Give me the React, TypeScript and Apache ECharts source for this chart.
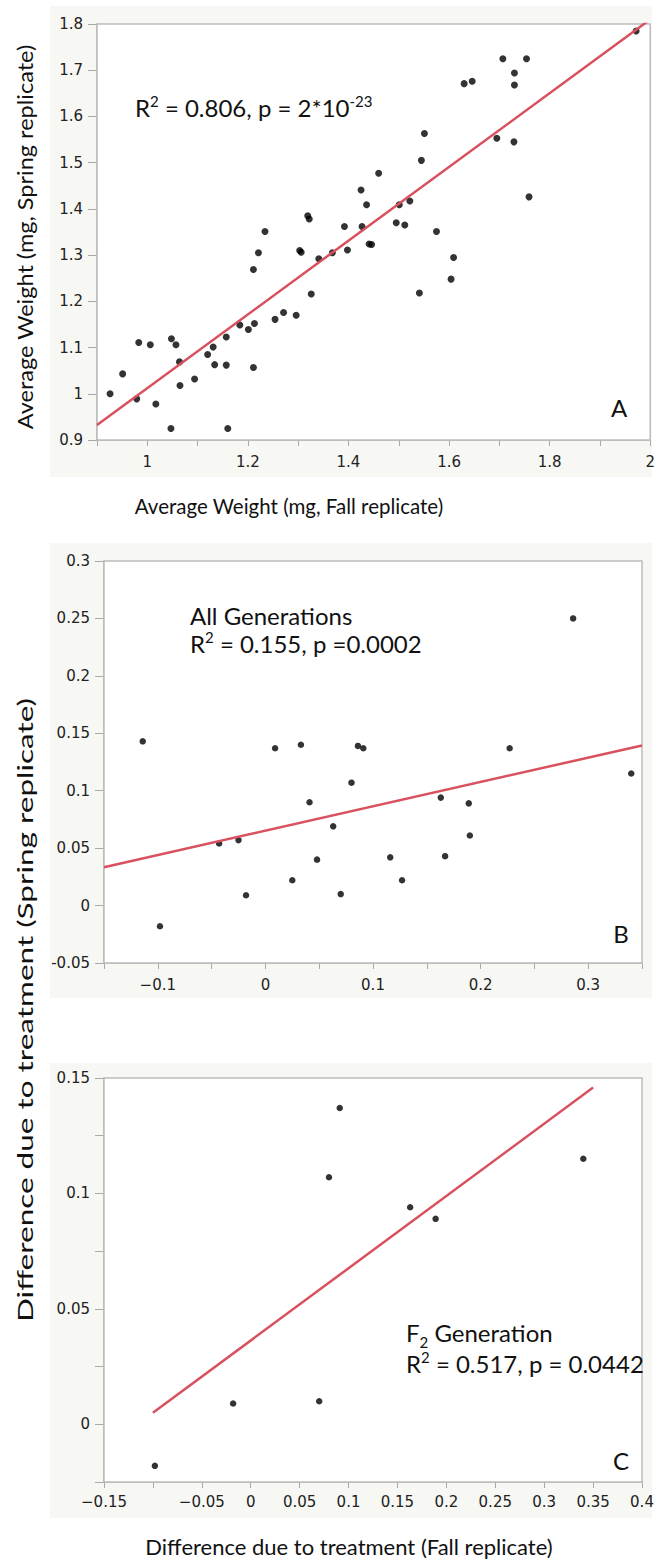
import { useEffect, useRef } from "react";
import * as echarts from "echarts";

// Panel A: average weight per line, fall vs spring replicate (mg)
const fallWeight = [
  0.926, 0.951, 0.983, 0.979, 1.006, 1.017, 1.048, 1.057, 1.047, 1.064,
  1.065, 1.094, 1.12, 1.131, 1.134, 1.157, 1.157, 1.16, 1.184, 1.201,
  1.213, 1.211, 1.211, 1.221, 1.234, 1.254, 1.271, 1.296, 1.303, 1.306,
  1.326, 1.341, 1.368, 1.398, 1.441, 1.446, 1.575, 1.609, 1.604, 1.541,
  1.425, 1.436, 1.319, 1.322, 1.392, 1.427, 1.46, 1.495, 1.501, 1.512,
  1.522, 1.545, 1.551, 1.63, 1.646, 1.707, 1.754, 1.73, 1.73, 1.695,
  1.729, 1.759, 1.972,
];
const springWeight = [
  1.0, 1.043, 1.111, 0.989, 1.106, 0.978, 1.119, 1.106, 0.925, 1.069,
  1.018, 1.032, 1.085, 1.101, 1.063, 1.123, 1.062, 0.925, 1.149, 1.139,
  1.152, 1.057, 1.269, 1.305, 1.351, 1.161, 1.176, 1.17, 1.31, 1.306,
  1.216, 1.292, 1.305, 1.311, 1.324, 1.323, 1.351, 1.295, 1.248, 1.218,
  1.441, 1.409, 1.385, 1.378, 1.362, 1.362, 1.477, 1.37, 1.409, 1.365,
  1.417, 1.505, 1.563, 1.671, 1.676, 1.725, 1.725, 1.694, 1.668, 1.553,
  1.545, 1.426, 1.785,
];
const fitA = { intercept: 0.214, slope: 0.798, from: 0.9, to: 2.0 };

// Panel B: difference due to treatment, all generations
const fallDiffAll = [
  -0.114, -0.098, -0.043, -0.025, -0.018, 0.009, 0.025, 0.033, 0.041, 0.048,
  0.063, 0.07, 0.08, 0.086, 0.091, 0.116, 0.127, 0.163, 0.167, 0.189,
  0.19, 0.227, 0.286, 0.34,
];
const springDiffAll = [
  0.143, -0.018, 0.054, 0.057, 0.009, 0.137, 0.022, 0.14, 0.09, 0.04,
  0.069, 0.01, 0.107, 0.139, 0.137, 0.042, 0.022, 0.094, 0.043, 0.089,
  0.061, 0.137, 0.25, 0.115,
];
const fitB = { intercept: 0.0652, slope: 0.212, from: -0.15, to: 0.35 };

// Panel C: F2 generation only
const fallDiffF2 = [-0.098, -0.018, 0.07, 0.08, 0.091, 0.163, 0.189, 0.34];
const springDiffF2 = [-0.018, 0.009, 0.01, 0.107, 0.137, 0.094, 0.089, 0.115];
const fitC = { intercept: 0.0363, slope: 0.313, from: -0.1, to: 0.35 };

// Labelled tick values
const xLabelsA = [1, 1.2, 1.4, 1.6, 1.8, 2];
const yLabelsA = [0.9, 1, 1.1, 1.2, 1.3, 1.4, 1.5, 1.6, 1.7, 1.8];
const xLabelsB = [-0.1, 0, 0.1, 0.2, 0.3];
const yLabelsB = [-0.05, 0, 0.05, 0.1, 0.15, 0.2, 0.25, 0.3];
const xLabelsC = [-0.15, -0.05, 0, 0.05, 0.1, 0.15, 0.2, 0.25, 0.3, 0.35, 0.4];
const yLabelsC = [0, 0.05, 0.1, 0.15];

const FIT_COLOR = "#d9505e";
const AXIS_COLOR = "#a9a9a9";
const TEXT_FONT = "Lato";
const TICK_FONT = "DejaVu Sans";

const pairs = (xs: number[], ys: number[]) => xs.map((x, i) => [x, ys[i]]);
const fitLine = (f: { intercept: number; slope: number; from: number; to: number }) => [
  [f.from, f.intercept + f.slope * f.from],
  [f.to, f.intercept + f.slope * f.to],
];

const labelAt = (vals: number[], minus: string) => (v: number) =>
  vals.some((t) => Math.abs(t - v) < 1e-6)
    ? String(parseFloat(v.toFixed(3))).replace("-", minus)
    : "";

function axis(
  gridIndex: number,
  min: number,
  max: number,
  interval: number,
  labels: number[],
  minus: string,
  tickLen: number,
  margin: number
) {
  return {
    type: "value",
    gridIndex,
    min,
    max,
    interval,
    axisLine: { show: true, onZero: false, lineStyle: { color: AXIS_COLOR, width: 1.5 } },
    axisTick: { show: true, length: tickLen, lineStyle: { color: AXIS_COLOR, width: 1 } },
    axisLabel: {
      show: true,
      margin,
      fontFamily: TICK_FONT,
      fontSize: 15,
      color: "#222",
      formatter: labelAt(labels, minus),
    },
    splitLine: { show: false },
  };
}

function scatter(idx: number, data: number[][], size: number) {
  return {
    type: "scatter",
    xAxisIndex: idx,
    yAxisIndex: idx,
    data,
    symbolSize: size,
    itemStyle: { color: "#000" },
    z: 3,
  };
}

function fit(idx: number, data: number[][]) {
  return {
    type: "line",
    xAxisIndex: idx,
    yAxisIndex: idx,
    data,
    showSymbol: false,
    clip: true,
    lineStyle: { color: FIT_COLOR, width: 2.5 },
    z: 4,
  };
}

const band = (x: number, y: number, w: number, h: number) => ({
  type: "rect",
  shape: { x, y, width: w, height: h },
  style: { fill: "#f7f7f3" },
  z: -10,
});

const label = (x: number, y: number, text: string, extra: any = {}) => ({
  type: "text",
  x,
  y,
  z: 100,
  style: {
    text,
    fontFamily: TEXT_FONT,
    fontSize: 24,
    lineHeight: 28,
    fill: "#111",
    verticalAlign: "middle",
    rich: {
      sup: { fontFamily: TEXT_FONT, fontSize: 15, lineHeight: 28, verticalAlign: "top", fill: "#111" },
      sub: { fontFamily: TEXT_FONT, fontSize: 15, lineHeight: 35, verticalAlign: "bottom", fill: "#111" },
    },
    ...extra,
  },
});

const verticalTitle = (y: number, text: string, stretch: number) => ({
  type: "text",
  x: 25,
  y,
  rotation: Math.PI / 2,
  scaleX: stretch,
  z: 100,
  style: {
    text,
    fontFamily: TEXT_FONT,
    fontSize: 21,
    fill: "#111",
    align: "center",
    verticalAlign: "middle",
  },
});

export default function App() {
  const ref = useRef<HTMLDivElement>(null);

  useEffect(() => {
    if (!ref.current) return;
    const chart = echarts.init(ref.current, undefined, { renderer: "svg" });

    const grid = (left: number, top: number, width: number, height: number) => ({
      left,
      top,
      width,
      height,
      show: true,
      backgroundColor: "#fff",
      borderColor: "#bdbdbd",
      borderWidth: 1.5,
      z: 1,
    });

    chart.setOption({
      animation: false,
      grid: [grid(97, 24, 556, 416), grid(104, 561, 538, 402), grid(104, 1078, 538, 404)],
      xAxis: [
        axis(0, 0.9, 2.0, 0.1, xLabelsA, "-", 6, 14),
        axis(1, -0.15, 0.35, 0.05, xLabelsB, "\u2212", 6, 14),
        axis(2, -0.15, 0.4, 0.05, xLabelsC, "\u2212", 6, 12),
      ],
      yAxis: [
        axis(0, 0.9, 1.8, 0.1, yLabelsA, "-", 9, 14),
        axis(1, -0.05, 0.3, 0.05, yLabelsB, "-", 9, 14),
        axis(2, -0.025, 0.15, 0.025, yLabelsC, "-", 9, 14),
      ],
      series: [
        scatter(0, pairs(fallWeight, springWeight), 7),
        fit(0, fitLine(fitA)),
        scatter(1, pairs(fallDiffAll, springDiffAll), 6.5),
        fit(1, fitLine(fitB)),
        scatter(2, pairs(fallDiffF2, springDiffF2), 6.5),
        fit(2, fitLine(fitC)),
      ],
      graphic: {
        elements: [
          band(50, 6, 602, 471),
          band(50, 543, 602, 455),
          band(50, 1063, 602, 455),
          label(135, 107, "R{sup|2} = 0.806, p = 2*10{sup|-23}"),
          label(190, 629, "All Generations\nR{sup|2} = 0.155, p =0.0002"),
          label(406, 1346, "F{sub|2} Generation\nR{sup|2} = 0.517, p = 0.0442"),
          label(619, 407, "A", { align: "center" }),
          label(621, 933, "B", { align: "center" }),
          label(621, 1460, "C", { align: "center" }),
          label(289, 506, "Average Weight (mg, Fall replicate)", { align: "center", fontSize: 20.5 }),
          label(349, 1546, "Difference due to treatment (Fall replicate)", {
            align: "center",
            fontSize: 22,
          }),
          verticalTitle(237, "Average Weight (mg, Spring replicate)", 1.12),
          verticalTitle(1010, "Difference due to treatment (Spring replicate)", 1.5),
        ],
      },
    });

    return () => chart.dispose();
  }, []);

  return (
    <div
      ref={ref}
      style={{ position: "absolute", left: 0, top: 0, width: 658, height: 1564, background: "#fff" }}
    />
  );
}
